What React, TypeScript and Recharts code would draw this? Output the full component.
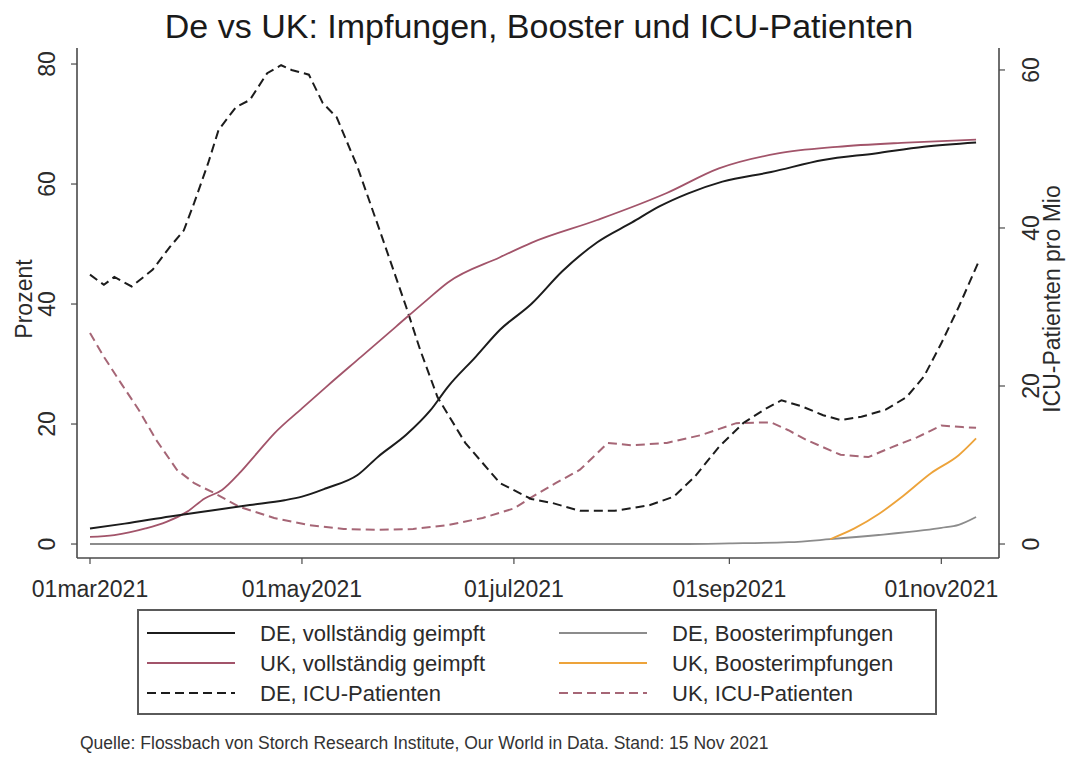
import React from 'react';
import { LineChart, Line, XAxis, YAxis } from 'recharts';

// day offsets count from 01 Mar 2021
const xTickDays = [0, 61, 122, 184, 245];
const xTickLabels = ['01mar2021', '01may2021', '01jul2021', '01sep2021', '01nov2021'];
const leftTicks = [0, 20, 40, 60, 80];
const rightTicks = [0, 20, 40, 60];

// DE, vollständig geimpft (%)
const deVaxDays = [0, 10, 23, 35, 46, 56, 61, 68, 77, 83, 91, 98, 103, 111, 118, 127, 136, 146, 156, 164, 172, 182, 196, 211, 226, 240, 255];
const deVaxPct = [2.6, 3.4, 4.6, 5.6, 6.5, 7.3, 7.9, 9.3, 11.5, 14.6, 18.2, 22.3, 26.2, 31.2, 35.7, 40, 45.5, 50.3, 53.6, 56.3, 58.4, 60.4, 62, 64, 65.1, 66.2, 66.9];

// UK, vollständig geimpft (%)
const ukVaxDays = [0, 7, 16, 22, 28, 33, 38, 43, 48, 53, 61, 68, 78, 88, 97, 103, 118, 127, 146, 166, 181, 198, 215, 235, 255];
const ukVaxPct = [1.2, 1.5, 2.6, 3.7, 5.4, 7.6, 9, 11.8, 15.1, 18.4, 22.6, 26.2, 31.2, 36.2, 40.7, 43.6, 47.8, 50.2, 54, 58.5, 62.6, 65.1, 66.2, 66.9, 67.4];

// DE, Boosterimpfungen (%)
const deBoostDays = [0, 100, 170, 184, 201, 213, 227, 240, 245, 250, 255];
const deBoostPct = [0, 0, 0, 0.1, 0.3, 0.8, 1.5, 2.3, 2.7, 3.2, 4.5];

// UK, Boosterimpfungen (%)
const ukBoostDays = [213, 220, 227, 234, 242, 250, 255];
const ukBoostPct = [0.8, 2.6, 5, 8, 11.8, 14.8, 17.6];

// DE, ICU-Patienten pro Mio
const deIcuDays = [0, 4, 7, 12, 18, 23, 27, 30, 34, 37, 42, 46, 51, 55, 58, 63, 67, 71, 77, 84, 91, 95, 100, 108, 118, 127, 133, 141, 151, 161, 168, 174, 181, 188, 194, 199, 205, 211, 216, 222, 229, 235, 240, 245, 250, 256];
const deIcu = [34.1, 32.8, 33.8, 32.6, 34.7, 37.6, 39.7, 43.2, 48.2, 52.4, 55.3, 56.2, 59.6, 60.6, 60, 59.4, 55.8, 54, 47.7, 38.9, 30, 24.6, 18.6, 12.8, 7.7, 5.7, 5.2, 4.2, 4.2, 4.9, 6, 8.5, 12.3, 15.3, 17, 18.2, 17.4, 16.3, 15.7, 16.1, 17, 18.6, 21.2, 25.4, 30, 36];

// UK, ICU-Patienten pro Mio
const ukIcuDays = [0, 4, 9, 14, 19, 25, 30, 36, 43, 53, 63, 73, 83, 93, 103, 113, 122, 127, 134, 141, 146, 149, 156, 166, 176, 186, 196, 201, 206, 216, 224, 231, 238, 245, 251, 255];
const ukIcu = [26.7, 23.7, 20.3, 17, 13.2, 9.4, 7.7, 6.4, 4.7, 3.3, 2.4, 1.9, 1.8, 1.9, 2.4, 3.3, 4.5, 5.9, 7.7, 9.4, 11.5, 12.8, 12.5, 12.8, 13.8, 15.3, 15.4, 14.4, 13.2, 11.3, 11, 12.3, 13.5, 15, 14.8, 14.7];

const toPoints = (days: number[], vals: number[]) => days.map((day, i) => ({ day, v: vals[i] }));

const FONT = '"Liberation Sans", Arial, Helvetica, sans-serif';
const AXIS = '#4a4a4a';
const TEXT = '#2b2b2b';

const C_DE = '#1c1c1c';
const C_UK = '#a2546a';
const C_UK_ICU = '#a66676';
const C_DE_BOOST = '#8c8c8c';
const C_UK_BOOST = '#eda33a';

const legendItems = [
  { name: 'DE, vollständig geimpft', color: C_DE, dash: undefined },
  { name: 'UK, vollständig geimpft', color: C_UK, dash: undefined },
  { name: 'DE, ICU-Patienten', color: C_DE, dash: '9 5' },
  { name: 'DE, Boosterimpfungen', color: C_DE_BOOST, dash: undefined },
  { name: 'UK, Boosterimpfungen', color: C_UK_BOOST, dash: undefined },
  { name: 'UK, ICU-Patienten', color: C_UK_ICU, dash: '9 5' },
];

const BottomTick = (props: any) => {
  const { x, y, payload } = props;
  const i = xTickDays.indexOf(payload.value);
  return (
    <text x={x} y={y + 31} textAnchor="middle" fontSize={23} fill={TEXT} fontFamily={FONT}>
      {i >= 0 ? xTickLabels[i] : ''}
    </text>
  );
};

const SideTick = (props: any) => {
  const { x, y, payload, shift } = props;
  const cx = x + shift;
  return (
    <text x={cx} y={y} transform={`rotate(-90 ${cx} ${y})`} textAnchor="middle" dominantBaseline="central" fontSize={23} fill={TEXT} fontFamily={FONT}>
      {payload.value}
    </text>
  );
};

const AxisTitle = (props: any) => {
  const { viewBox, text, dx } = props;
  const cx = viewBox.x + dx;
  const cy = viewBox.y + viewBox.height / 2 - 4;
  return (
    <text x={cx} y={cy} transform={`rotate(-90 ${cx} ${cy})`} textAnchor="middle" dominantBaseline="central" fontSize={23} fill={TEXT} fontFamily={FONT}>
      {text}
    </text>
  );
};

function ChartLegend() {
  const rowY = [24, 54, 84];
  const colX = [10, 422];
  return (
    <svg width={800} height={106} style={{ position: 'absolute', left: 137, top: 609 }}>
      <rect x={1} y={1} width={798} height={104} fill="#fff" stroke="#5a5a5a" strokeWidth={2} />
      {legendItems.map((it, i) => {
        const col = Math.floor(i / 3);
        const row = i % 3;
        const x = colX[col];
        const y = rowY[row];
        return (
          <g key={it.name}>
            <line x1={x} x2={x + 88} y1={y} y2={y} stroke={it.color} strokeWidth={2} strokeDasharray={it.dash} />
            <text x={x + 113} y={y} dominantBaseline="central" fontSize={22} fill={TEXT} fontFamily={FONT}>
              {it.name}
            </text>
          </g>
        );
      })}
    </svg>
  );
}

export default function App() {
  const xDomain: [number, number] = [-3.74, 261.6];
  return (
    <div style={{ position: 'absolute', left: 0, top: 0, width: 1067, height: 762, background: '#fff', fontFamily: FONT }}>
      <div style={{ position: 'absolute', left: 0, width: 1078, top: 9, textAlign: 'center', fontSize: 34, lineHeight: '34px', color: '#1a1a1a' }}>
        De vs UK: Impfungen, Booster und ICU-Patienten
      </div>
      <LineChart width={1067} height={762} margin={{ top: 48, right: 8, bottom: 164, left: 17 }}>
        <XAxis
          xAxisId="main"
          type="number"
          dataKey="day"
          domain={xDomain}
          allowDataOverflow
          ticks={xTickDays}
          interval={0}
          height={40}
          tickSize={6}
          tick={<BottomTick />}
          axisLine={{ stroke: AXIS, strokeWidth: 1.6 }}
          tickLine={{ stroke: AXIS, strokeWidth: 1.2 }}
        />
        <XAxis
          xAxisId="top"
          orientation="top"
          type="number"
          dataKey="day"
          domain={xDomain}
          allowDataOverflow
          height={0}
          tick={false}
          tickLine={false}
          axisLine={{ stroke: '#777', strokeWidth: 1.6 }}
        />
        <YAxis
          yAxisId="left"
          orientation="left"
          width={60}
          type="number"
          domain={[-2.33, 82.67]}
          allowDataOverflow
          ticks={leftTicks}
          interval={0}
          tickSize={6}
          tick={<SideTick shift={-22} />}
          axisLine={{ stroke: AXIS, strokeWidth: 1.6 }}
          tickLine={{ stroke: AXIS, strokeWidth: 1.2 }}
          label={<AxisTitle text="Prozent" dx={6.5} />}
        />
        <YAxis
          yAxisId="right"
          orientation="right"
          width={60}
          type="number"
          domain={[-1.77, 62.78]}
          allowDataOverflow
          ticks={rightTicks}
          interval={0}
          tickSize={6}
          tick={<SideTick shift={24} />}
          axisLine={{ stroke: AXIS, strokeWidth: 1.6 }}
          tickLine={{ stroke: AXIS, strokeWidth: 1.2 }}
          label={<AxisTitle text="ICU-Patienten pro Mio" dx={53} />}
        />
        <Line data={toPoints(deBoostDays, deBoostPct)} dataKey="v" xAxisId="main" yAxisId="left" type="monotone" stroke={C_DE_BOOST} strokeWidth={1.8} dot={false} isAnimationActive={false} />
        <Line data={toPoints(ukBoostDays, ukBoostPct)} dataKey="v" xAxisId="main" yAxisId="left" type="monotone" stroke={C_UK_BOOST} strokeWidth={1.8} dot={false} isAnimationActive={false} />
        <Line data={toPoints(ukIcuDays, ukIcu)} dataKey="v" xAxisId="main" yAxisId="right" type="linear" stroke={C_UK_ICU} strokeWidth={2} strokeDasharray="9 5" dot={false} isAnimationActive={false} />
        <Line data={toPoints(deIcuDays, deIcu)} dataKey="v" xAxisId="main" yAxisId="right" type="linear" stroke={C_DE} strokeWidth={2} strokeDasharray="9 5" dot={false} isAnimationActive={false} />
        <Line data={toPoints(ukVaxDays, ukVaxPct)} dataKey="v" xAxisId="main" yAxisId="left" type="monotone" stroke={C_UK} strokeWidth={1.8} dot={false} isAnimationActive={false} />
        <Line data={toPoints(deVaxDays, deVaxPct)} dataKey="v" xAxisId="main" yAxisId="left" type="monotone" stroke={C_DE} strokeWidth={2} dot={false} isAnimationActive={false} />
      </LineChart>
      <ChartLegend />
      <div style={{ position: 'absolute', left: 80, top: 734, fontSize: 17.5, lineHeight: '18px', color: '#333', whiteSpace: 'nowrap' }}>
        Quelle: Flossbach von Storch Research Institute, Our World in Data. Stand: 15 Nov 2021
      </div>
    </div>
  );
}
